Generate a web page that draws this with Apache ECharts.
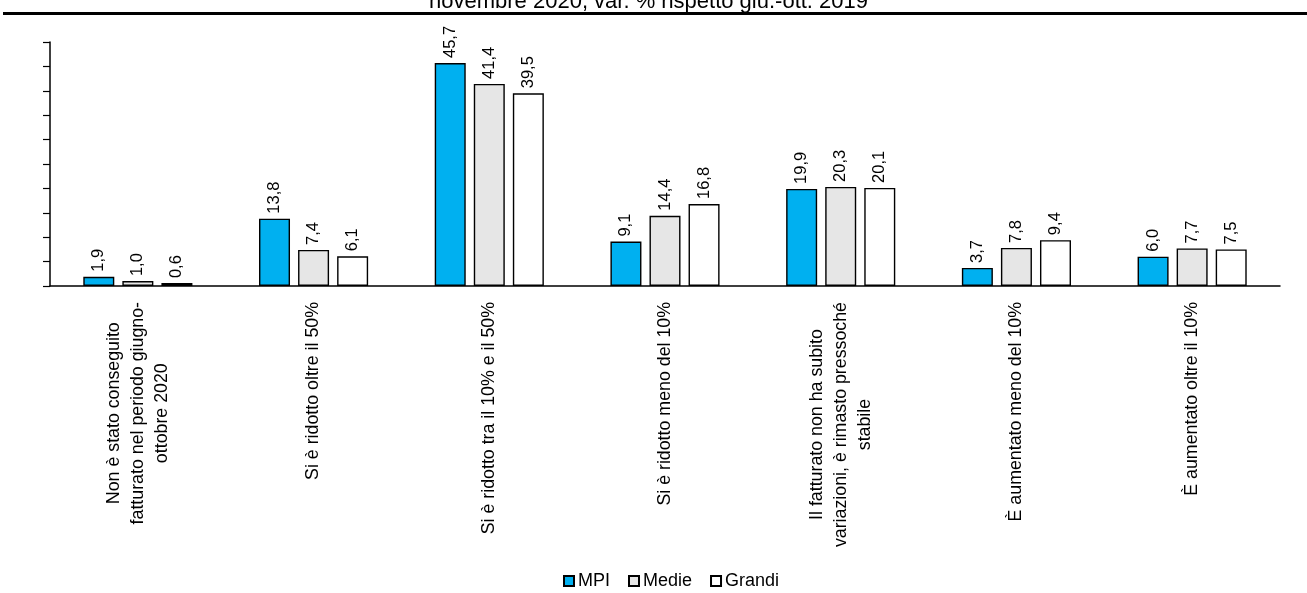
<!DOCTYPE html>
<html>
<head>
<meta charset="utf-8">
<script src="https://cdn.jsdelivr.net/npm/echarts@6/dist/echarts.min.js"></script>
<style>
html,body{margin:0;padding:0;background:#fff;}
#chart{width:1307px;height:593px;}
</style>
</head>
<body>
<div id="chart"></div>
<script>
const categories = [
  "Non è stato conseguito\nfatturato nel periodo giugno-\nottobre 2020",
  "Si è ridotto oltre il 50%",
  "Si è ridotto tra il 10% e il 50%",
  "Si è ridotto meno del 10%",
  "Il fatturato non ha subito\nvariazioni, è rimasto pressoché\nstabile",
  "È aumentato meno del 10%",
  "È aumentato oltre il 10%"
];
const seriesNames = ["MPI", "Medie", "Grandi"];
const mpi = [1.9, 13.8, 45.7, 9.1, 19.9, 3.7, 6.0];
const medie = [1.0, 7.4, 41.4, 14.4, 20.3, 7.8, 7.7];
const grandi = [0.6, 6.1, 39.5, 16.8, 20.1, 9.4, 7.5];
const titleText = "novembre 2020, var. % rispetto giu.-ott. 2019";

const FONT = '"Liberation Sans Narrow", "Arial Narrow", "Liberation Sans", Arial, sans-serif';
const colors = ["#00B0F0", "#E6E6E6", "#FFFFFF"];

function fmt(v){ return v.toFixed(1).replace('.', ','); }

const chart = echarts.init(document.getElementById('chart'));
const makeSeries = (name, data, i) => ({
  name: name,
  type: 'bar',
  data: data,
  barWidth: 31,
  barGap: '26%',
  itemStyle: { color: colors[i], borderColor: '#000', borderWidth: 1.4 },
  label: {
    show: true,
    position: 'top',
    rotate: 90,
    align: 'left',
    verticalAlign: 'middle',
    distance: 5,
    fontFamily: FONT,
    fontSize: 16.5,
    color: '#000',
    formatter: p => fmt(p.value)
  },
  emphasis: { disabled: true }
});

chart.setOption({
  animation: false,
  backgroundColor: '#fff',
  title: {
    text: titleText,
    left: 424,
    top: -14,
    textStyle: { fontFamily: FONT, fontSize: 22, fontWeight: 'normal', color: '#000' }
  },
  graphic: [{
    type: 'line',
    shape: { x1: 3, y1: 13.5, x2: 1307, y2: 13.5 },
    style: { stroke: '#000', lineWidth: 3 }
  }],
  legend: {
    bottom: -2,
    left: 558,
    itemWidth: 10,
    itemHeight: 10,
    itemGap: 18,
    icon: 'rect',
    textStyle: { fontFamily: FONT, fontSize: 18, color: '#000', padding: [0, 0, 0, -1] },
    data: seriesNames
  },
  grid: { left: 50, right: 27, top: 42, bottom: 307, containLabel: false },
  xAxis: {
    type: 'category',
    data: categories,
    axisLine: { lineStyle: { color: '#000', width: 1.5 } },
    axisTick: { show: false },
    axisLabel: {
      rotate: 90,
      interval: 0,
      margin: 16,
      color: '#000',
      fontFamily: FONT,
      fontSize: 17.8,
      lineHeight: 24,
      formatter: v => v.split('\n').map(s => '{c|' + s + '}').join('\n'),
      rich: { c: { align: 'center', fontFamily: FONT, fontSize: 17.8, lineHeight: 24, color: '#000' } }
    }
  },
  yAxis: {
    type: 'value',
    min: 0,
    max: 50,
    interval: 5,
    axisLine: { show: true, lineStyle: { color: '#000', width: 1.5 } },
    axisTick: { show: true, inside: false, length: 7, lineStyle: { color: '#000', width: 1.2 } },
    axisLabel: { show: false },
    splitLine: { show: false }
  },
  series: [
    makeSeries(seriesNames[0], mpi, 0),
    makeSeries(seriesNames[1], medie, 1),
    makeSeries(seriesNames[2], grandi, 2)
  ]
});
</script>
</body>
</html>
